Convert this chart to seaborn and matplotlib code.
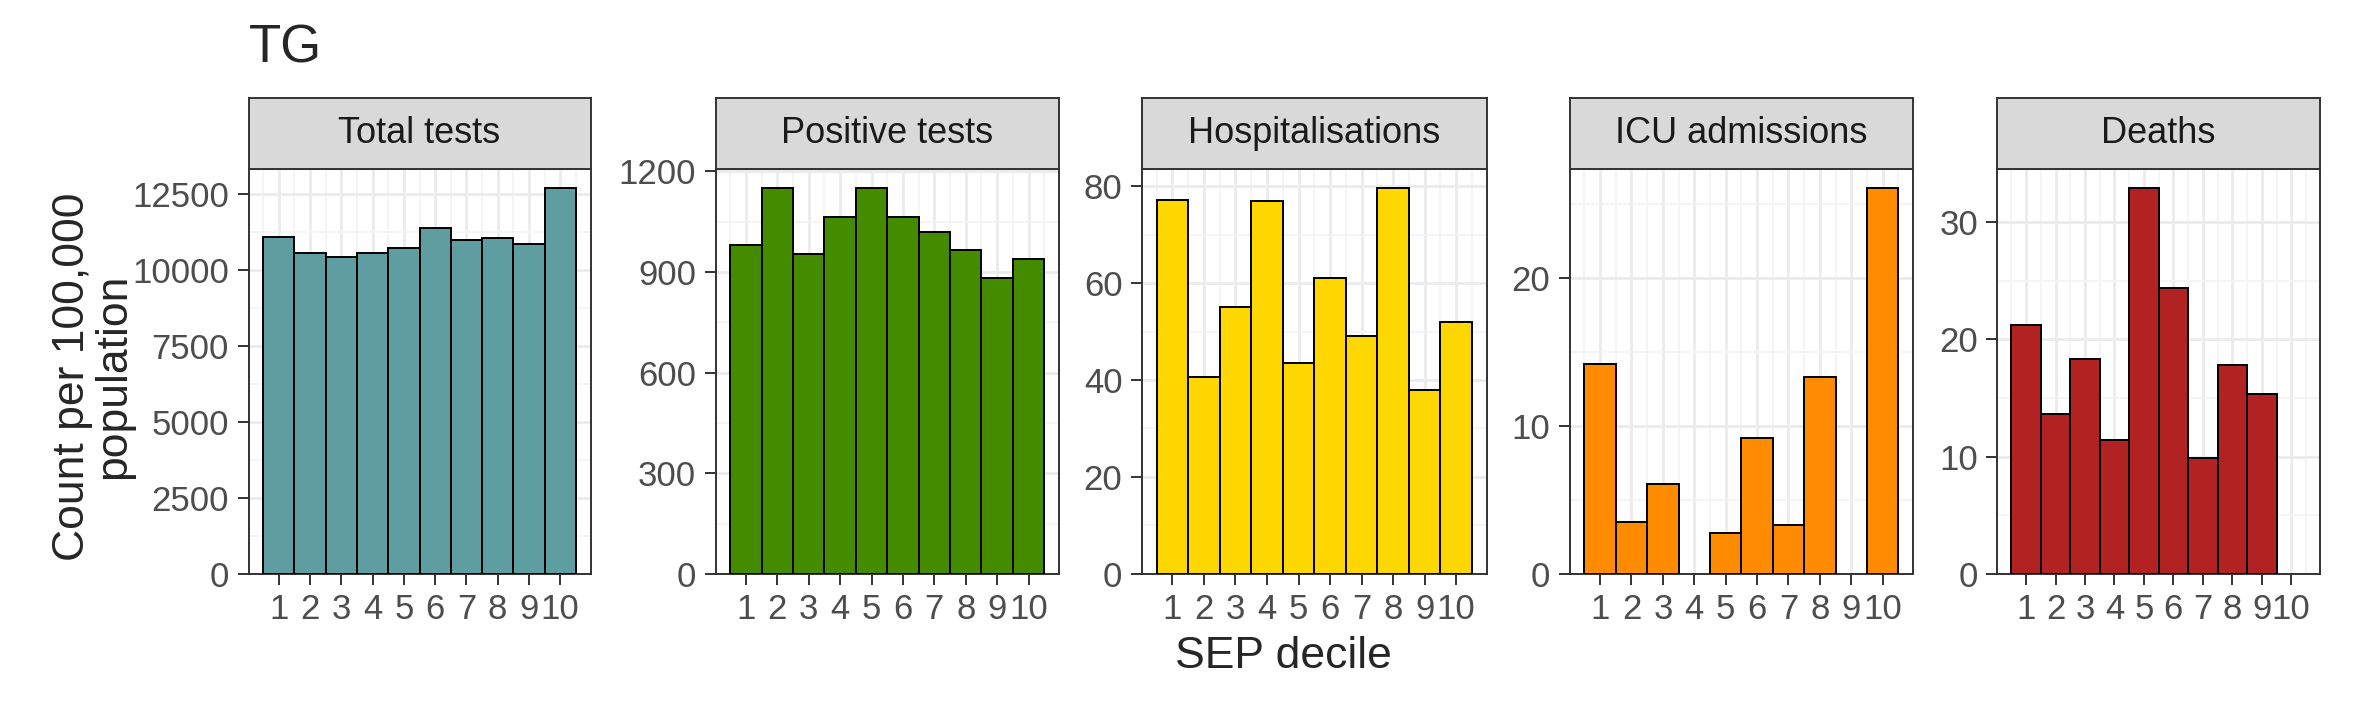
import matplotlib
matplotlib.use("Agg")
import matplotlib.pyplot as plt
import seaborn as sns
import pandas as pd
import numpy as np
from matplotlib.ticker import MultipleLocator, FixedLocator

sns.set_style("white")
plt.rcParams['font.family'] = ['Liberation Sans', 'DejaVu Sans']

deciles = [1, 2, 3, 4, 5, 6, 7, 8, 9, 10]
panels = ["Total tests", "Positive tests", "Hospitalisations", "ICU admissions", "Deaths"]
total_tests = [11100, 10560, 10420, 10560, 10710, 11400, 11000, 11060, 10860, 12700]
positive_tests = [980, 1150, 953, 1065, 1150, 1065, 1020, 966, 881, 939]
hospitalisations = [77.2, 40.7, 55.0, 76.9, 43.5, 61.0, 49.0, 79.6, 38.0, 52.0]
icu_admissions = [14.2, 3.5, 6.1, 0, 2.75, 9.2, 3.3, 13.3, 0, 26.1]
deaths = [21.2, 13.6, 18.3, 11.4, 32.9, 24.4, 9.9, 17.8, 15.3, 0]
colors = ["#5F9EA0", "#458B00", "#FFD700", "#FF8C00", "#B22222"]
ytick_steps = [2500, 300, 20, 10, 10]

series = [total_tests, positive_tests, hospitalisations, icu_admissions, deaths]

# layout measured on a 1568x470 view of the 2362x708 figure
W, H = 1568, 470
fig = plt.figure(figsize=(2362 / 200, 708 / 200), dpi=200)
lefts = [165, 475, 758, 1042, 1326]
rights = [392, 703, 987, 1270, 1540]
top_strip, strip_bot, bot = 65, 112, 381

for i in range(5):
    l, r = lefts[i], rights[i]
    ax = fig.add_axes([l / W, 1 - bot / H, (r - l) / W, (bot - strip_bot) / H])
    df = pd.DataFrame({"decile": deciles, "value": series[i]})
    df = df[df["value"] > 0]
    sns.barplot(data=df, x="decile", y="value", native_scale=True, width=1,
                color=colors[i], edgecolor="black", linewidth=0.7, ax=ax,
                saturation=1, zorder=3)
    ax.set_xlim(0.03, 10.97)
    ymax = max(series[i]) * 1.05
    ax.set_ylim(0, ymax)
    step = ytick_steps[i]
    ax.yaxis.set_major_locator(MultipleLocator(step))
    ax.yaxis.set_minor_locator(MultipleLocator(step / 2))
    ax.xaxis.set_major_locator(FixedLocator(deciles))
    ax.xaxis.set_minor_locator(FixedLocator(np.arange(0.5, 11, 1)))
    ax.grid(True, which="major", color="#EBEBEB", linewidth=1.0, zorder=0)
    ax.grid(True, which="minor", color="#F4F4F4", linewidth=0.6, zorder=0)
    ax.set_axisbelow(True)
    ax.set_xlabel("")
    ax.set_ylabel("")
    ax.tick_params(axis="both", which="major", length=4, width=0.7, color="#333333",
                   labelsize=12.5, labelcolor="#4D4D4D", pad=3, left=True, bottom=True)
    ax.tick_params(which="minor", length=0)
    for s in ax.spines.values():
        s.set_color("#333333")
        s.set_linewidth(0.7)
    sax = fig.add_axes([l / W, 1 - strip_bot / H, (r - l) / W, (strip_bot - top_strip) / H])
    sax.set_facecolor("#D9D9D9")
    sax.set_xticks([]); sax.set_yticks([])
    for s in sax.spines.values():
        s.set_color("#333333"); s.set_linewidth(0.7)
    sax.text(0.5, 0.5, panels[i], ha="center", va="center", fontsize=13,
             color="#1A1A1A", transform=sax.transAxes)

fig.text(165 / W, 1 - 32 / H, "TG", fontsize=19, ha="left", va="center")
fig.text(852 / W, 1 - 436 / H, "SEP decile", fontsize=16, ha="center", va="center")
fig.text(62 / W, 1 - 250 / H, "Count per 100,000\npopulation", fontsize=16,
         ha="center", va="center", rotation=90, linespacing=1.0)

fig.savefig("out.png", dpi=200, facecolor="white")
